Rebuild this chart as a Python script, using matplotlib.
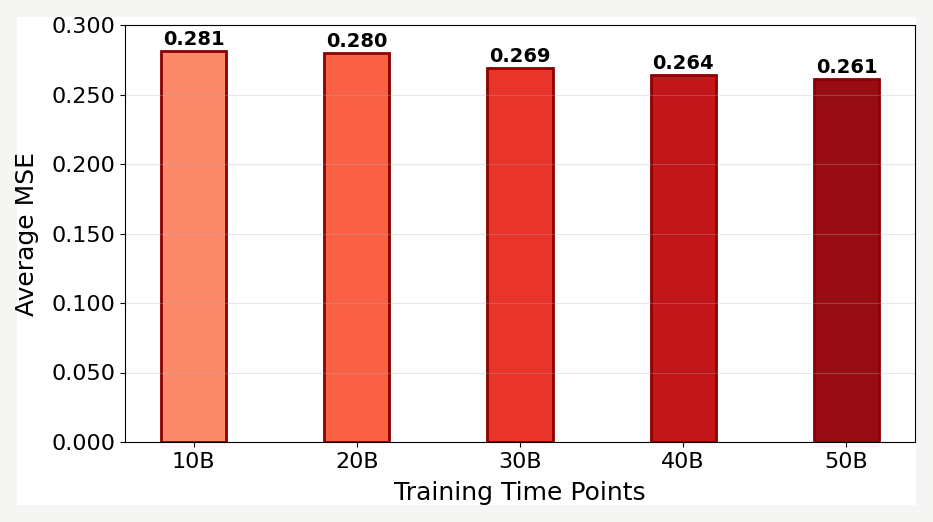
import matplotlib
matplotlib.use('Agg')
import matplotlib.pyplot as plt
from matplotlib.patches import Rectangle
import numpy as np

# dane
labels = ['10B', '20B', '30B', '40B', '50B']
mse = [0.281, 0.280, 0.269, 0.264, 0.261]

colors = plt.cm.Reds(np.linspace(0.4, 0.9, len(labels)))

fig = plt.figure(figsize=(9.33, 5.22), dpi=100, facecolor='#f5f5f3')
fig.patches.append(Rectangle((17/933, 1-505/522), (916-17)/933, (505-17)/522,
                             transform=fig.transFigure, facecolor='white',
                             edgecolor='none', zorder=-1))
ax = fig.add_axes([125/933, 1-442/522, (915-125)/933, (442-25)/522])

x = np.arange(len(labels))
bars = ax.bar(x, mse, width=0.4, color=colors, edgecolor='darkred', linewidth=2)
for b, v in zip(bars, mse):
    ax.text(b.get_x() + b.get_width()/2, v + 0.0015, '%.3f' % v,
            ha='center', va='bottom', fontsize=14, fontweight='bold')

ax.set_xticks(x)
ax.set_xticklabels(labels, fontsize=16)
ax.set_ylim(0, 0.3)
ticks = np.arange(0, 0.301, 0.05)
ax.set_yticks(ticks)
ax.set_yticklabels(['%.3f' % t for t in ticks], fontsize=16)
ax.set_xlabel('Training Time Points', fontsize=18, labelpad=7)
ax.set_ylabel('Average MSE', fontsize=18, labelpad=9)
ax.grid(axis='y', alpha=0.3)

fig.savefig('out.png', dpi=100, facecolor=fig.get_facecolor())
